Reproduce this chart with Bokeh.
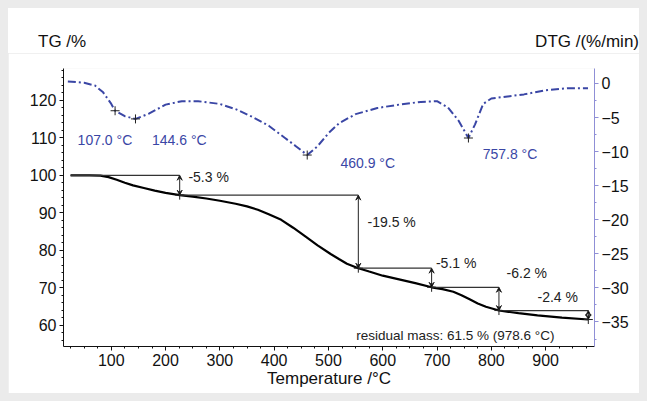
from bokeh.plotting import figure
from bokeh.models import Range1d, LinearAxis, SingleIntervalTicker, Arrow, VeeHead, Div
from bokeh.layouts import column
from bokeh.core.properties import value
from bokeh.embed import file_html
from bokeh.resources import INLINE

# ---- data ----
temp_tg = [25, 60, 80, 95, 110, 125, 140, 160, 180, 200, 226, 250, 275, 300, 329, 350, 370, 390, 413,
           435, 458, 480, 504, 520, 534, 555, 575, 600, 630, 660, 690, 710, 730, 745, 760, 775, 790,
           814, 850, 885, 930, 978.6]
tg = [100, 100, 99.9, 99.5, 98.8, 98.0, 97.3, 96.6, 95.9, 95.3, 94.7, 94.3, 93.8, 93.2, 92.4, 91.7,
      90.8, 89.6, 88.1, 86.0, 83.6, 81.3, 79.0, 77.6, 76.4, 75.2, 74.3, 73.2, 72.2, 71.2, 70.1, 69.6,
      68.9, 68.0, 66.9, 65.8, 64.9, 63.9, 63.2, 62.6, 62.0, 61.5]

temp_dtg = [20, 50, 70, 85, 100, 107, 125, 144.6, 170, 200, 230, 260, 300, 330, 360, 390, 420, 440, 460.9,
            480, 500, 520, 550, 590, 630, 670, 700, 720, 740, 757.8, 770, 785, 800, 830, 860, 900, 940, 978]
dtg = [0.3, 0.1, -0.3, -1.3, -3.0, -4.0, -4.8, -5.2, -4.4, -3.1, -2.6, -2.6, -3.0, -3.8, -4.9, -6.2, -8.0,
       -9.2, -10.5, -9.2, -7.3, -5.8, -4.5, -3.6, -3.1, -2.7, -2.6, -3.5, -5.5, -8.0, -6.0, -3.0, -2.2,
       -1.9, -1.6, -1.0, -0.7, -0.7]

peak_temp = [107.0, 144.6, 460.9, 757.8]
peak_dtg = [-4.0, -5.2, -10.5, -8.0]
peak_labels = ["107.0 °C", "144.6 °C", "460.9 °C", "757.8 °C"]

step_temp = [25, 226, 555, 690, 814, 978.6]
step_tg = [100, 94.7, 75.2, 70.1, 63.9, 61.5]
step_labels = ["-5.3 %", "-19.5 %", "-5.1 %", "-6.2 %", "-2.4 %"]
residual_label = "residual mass:  61.5 % (978.6 °C)"

x_label = "Temperature /°C"
left_title = "TG /%"
right_title = "DTG /(%/min)"

# annotation anchor positions (data coordinates)
step_label_temp = [242, 572, 698, 828, 885]
step_label_tg = [99.5, 87.5, 76.5, 73.8, 67.4]
residual_temp, residual_tg = 551, 57.2
peak_label_temp = [38, 175, 522, 784]
peak_label_dtg = [-8.3, -8.3, -11.7, -10.3]

FONT = "Liberation Sans"
BLUE = "#3a46a5"
AXBLUE = "#8f8fd6"
INK = "#111111"

header = Div(
    text=('<div style="width:631px;box-sizing:border-box;padding:22px 0 0 30px;display:flex;'
          'justify-content:space-between;font-family:\'Liberation Sans\';font-size:17px;color:#111111;">'
          f'<span>{left_title}</span><span>{right_title}</span></div>'),
    width=631, height=45, margin=0, styles={"background-color": "white"})

p = figure(width=631, height=340, x_range=Range1d(12, 990), y_range=Range1d(54.3, 128.5),
           output_backend="svg", toolbar_location=None,
           min_border_left=55, min_border_right=45, min_border_top=15, min_border_bottom=47)
p.extra_y_ranges = {"dtg": Range1d(-38.6, 2.2)}
p.outline_line_color = None
p.grid.visible = False
p.background_fill_color = "white"
p.border_fill_color = "white"

# axes
p.xaxis.ticker = SingleIntervalTicker(interval=100, num_minor_ticks=4)
p.yaxis.ticker = SingleIntervalTicker(interval=10, num_minor_ticks=5)
p.xaxis.axis_label = x_label
for ax in (p.xaxis[0], p.yaxis[0]):
    ax.major_tick_in = 0
    ax.major_tick_out = 4
    ax.minor_tick_in = 0
    ax.minor_tick_out = 2
    ax.major_label_text_font = FONT
    ax.major_label_text_font_size = "16px"
    ax.major_label_text_color = INK
    ax.axis_line_color = INK
    ax.major_tick_line_color = INK
    ax.minor_tick_line_color = INK
    ax.major_label_standoff = 3
p.xaxis.axis_label_text_font = FONT
p.xaxis.axis_label_text_font_size = "17px"
p.xaxis.axis_label_text_font_style = "normal"
p.xaxis.axis_label_standoff = 0
p.xaxis.axis_label_text_color = INK

rax = LinearAxis(y_range_name="dtg", ticker=SingleIntervalTicker(interval=5, num_minor_ticks=2))
rax.axis_line_color = AXBLUE
rax.major_tick_line_color = AXBLUE
rax.minor_tick_line_color = AXBLUE
rax.major_tick_in = 0
rax.major_tick_out = 4
rax.minor_tick_in = 0
rax.minor_tick_out = 2
rax.major_label_text_font = FONT
rax.major_label_text_font_size = "16px"
rax.major_label_text_color = INK
rax.major_label_standoff = 3
p.add_layout(rax, "right")

# DTG curve
p.line(temp_dtg, dtg, y_range_name="dtg", line_color=BLUE, line_width=2, line_dash="8 3 2 3")
p.scatter(peak_temp, peak_dtg, y_range_name="dtg", marker="cross", size=9, line_color="#222222", line_width=1)
p.text(peak_label_temp, peak_label_dtg, text=peak_labels, y_range_name="dtg", text_color=BLUE,
       text_font=value(FONT), text_font_size="14px", text_baseline="middle", text_align="left")

# TG curve
p.line(temp_tg, tg, line_color="#000000", line_width=2.2)

# step construction
for i in range(len(step_labels)):
    p.segment(x0=[step_temp[i]], y0=[step_tg[i]], x1=[step_temp[i + 1]], y1=[step_tg[i]],
              line_color="#333333", line_width=1.2)
    p.add_layout(Arrow(x_start=step_temp[i + 1], y_start=step_tg[i], x_end=step_temp[i + 1], y_end=step_tg[i + 1],
                       line_color="#222222", line_width=1,
                       start=VeeHead(size=5, line_color="#222222", line_width=1),
                       end=VeeHead(size=5, line_color="#222222", line_width=1)))
p.scatter(step_temp[1:], step_tg[1:], marker="cross", size=9, line_color="#222222", line_width=1)
p.text(step_label_temp, step_label_tg, text=step_labels, text_color="#222222",
       text_font=value(FONT), text_font_size="14px", text_baseline="middle", text_align="left")
p.text([residual_temp], [residual_tg], text=[residual_label], text_color="#222222",
       text_font=value(FONT), text_font_size="13.5px", text_baseline="middle", text_align="left")

layout = column(header, p, spacing=0)

html = file_html(layout, INLINE)
html = html.replace("<head>", "<head><style>html,body{background:#ebebeb !important;}"
                    "body{padding:8px !important;}</style>", 1)
open("out.html", "w").write(html)
